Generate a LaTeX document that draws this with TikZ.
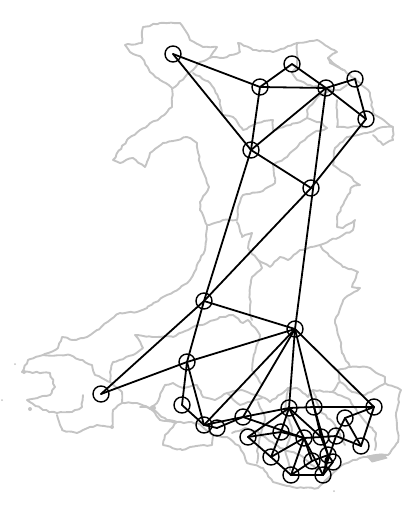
\documentclass[tikz,border=0pt]{standalone}
\usetikzlibrary{decorations.pathmorphing}
\definecolor{mapgray}{HTML}{C4C4C4}
\pgfmathsetseed{7}
\tikzset{
  x=1pt,y=-1pt,
  border/.style={draw=mapgray,line width=1.9pt,line join=round,line cap=round,decorate,decoration={random steps,segment length=3.5pt,amplitude=0.8pt}},
  blob/.style={fill=mapgray,draw=mapgray,line width=1pt,line join=round},
  station/.style={circle,draw=black,line width=1.4pt,minimum size=16pt,inner sep=0pt},
  link/.style={draw=black,line width=1.8pt,line cap=round}
}
\begin{document}
\begin{tikzpicture}
\useasboundingbox (0,0) rectangle (413,511);
% coast and outer boundary
\draw[border] (125,45)--(130,52)--(142,58)--(150,72)--(160,80)--(172,88)--(172,107)--(160,118)--(140,130)--(127,140)--(113,160)--(120,163)--(133,158)--(145,167)--(150,153)--(163,143)--(187,137)--(197,143)--(200,163)--(209,187)--(200,202)--(200,210)--(207,225)--(205,250)--(200,260)--(190,280)--(180,288)--(163,297)--(147,308)--(137,312)--(120,313)--(110,320)--(97,330)--(87,337)--(73,340)--(62,337)--(58,348)--(43,355)--(28,360)--(22,372)--(50,373)--(55,387)--(50,395)--(27,400)--(43,410)--(57,413)--(72,412)--(82,407)--(83,395);
\draw[border] (57,415)--(62,430)--(77,433)--(97,425)--(112,427)--(113,410)--(122,403)--(137,403)--(153,410)--(167,420)--(177,422)--(165,435)--(163,445)--(182,450)--(190,447)--(212,445)--(213,435)--(227,437)--(240,447)--(247,463)--(263,468)--(273,482)--(297,488)--(318,488)--(342,465)--(353,460)--(366,457)--(376,455)--(388,455)--(398,442)--(398,433)--(396,413)--(401,390)--(385,383)--(385,377)--(367,367)--(350,367)--(342,353)--(340,340)--(335,320)--(345,298)--(360,288)--(352,287)--(358,272)--(343,267)--(323,250)--(320,245)--(343,235)--(353,230)--(355,220)--(343,228)--(337,227)--(337,217)--(352,187)--(360,185)--(345,173)--(333,165)--(335,148)--(347,137)--(367,133)--(383,127)--(393,127)--(393,140)--(383,145)--(373,135);
\draw[border] (393,127)--(387,123)--(373,113)--(370,93)--(360,83)--(350,75)--(333,63)--(328,58)--(337,52)--(317,40)--(297,43)--(273,52)--(253,50)--(238,43)--(240,52)--(223,58)--(213,57)--(200,62)--(193,70)--(173,88);
\draw[border] (125,45)--(142,43)--(143,27)--(160,23)--(180,23)--(185,30)--(190,40)--(203,47)--(217,47)--(210,58);
% inner boundaries north
\draw[border] (193,73)--(210,83)--(220,100)--(222,115)--(233,117)--(243,130)--(257,123)--(273,120)--(273,130)--(297,123)--(307,118)--(322,123)--(327,128)--(313,133)--(300,143)--(287,157)--(273,165)--(275,183)--(260,192)--(243,195)--(238,207)--(237,220)--(223,220)--(208,225);
\draw[border] (237,222)--(242,237)--(252,233)--(248,248)--(258,260)--(262,268)--(252,277)--(250,287)--(250,313)--(252,320);
\draw[border] (258,260)--(270,267)--(280,257)--(288,260)--(300,250)--(320,245);
\draw[border] (297,43)--(297,65)--(292,73)--(297,80)--(310,85)--(322,88)--(340,90)--(347,85);
\draw[border] (307,118)--(307,110)--(320,95)--(333,90);
\draw[border] (328,58)--(330,63)--(343,70);
\draw[border] (337,100)--(337,127)--(367,127);
% mid Wales to south
\draw[border] (43,355)--(70,355)--(92,365)--(95,375)--(110,382)--(122,392)--(122,403);
\draw[border] (110,382)--(110,372)--(113,362)--(133,355)--(143,348)--(135,335)--(157,337)--(173,337)--(193,327)--(207,323)--(222,317)--(233,315)--(243,323)--(248,320)--(260,335)--(253,360)--(252,370)--(262,385);
\draw[border] (140,407)--(150,408)--(157,403)--(165,385)--(173,383)--(183,388)--(197,385)--(203,397)--(215,400)--(227,393)--(242,390)--(262,397)--(270,402)--(288,388)--(297,388)--(308,397)--(313,390)--(332,392)--(340,382)--(338,370)--(350,367);
\draw[border] (150,408)--(160,420)--(177,422)--(197,423)--(213,435);
\draw[border] (227,393)--(240,405)--(248,402)--(262,398);
% southern valleys
\draw[border] (258,402)--(265,418)--(258,447)--(257,463);
\draw[border] (232,433)--(245,428)--(258,432)--(280,448)--(300,455)--(318,470);
\draw[border] (288,388)--(285,410)--(292,430)--(285,450)--(290,470);
\draw[border] (313,390)--(320,410)--(335,425)--(345,445);
\draw[border] (332,392)--(350,400)--(360,415)--(373,430)--(376,433)--(375,450);
\draw[border] (340,382)--(352,392)--(365,395)--(385,383);
\draw[blob] (367,456)--(383,454)--(387,458)--(372,462)--cycle;
\fill[mapgray] (24,372) circle (2);
\fill[mapgray] (2,400) circle (1);
\fill[mapgray] (15,364) circle (1);
\fill[mapgray] (334,491) circle (1);
\fill[mapgray] (30,409) circle (2);
\fill[mapgray] (153,408) circle (3);
\fill[mapgray] (112,427) circle (2);
% stations
\node[station] (A) at (173,54) {};
\node[station] (B) at (260,87) {};
\node[station] (C) at (292,64) {};
\node[station] (D) at (326,88) {};
\node[station] (E) at (355,79) {};
\node[station] (F) at (366,119) {};
\node[station] (G) at (251,150) {};
\node[station] (H) at (311,188) {};
\node[station] (I) at (204,301) {};
\node[station] (J) at (295,329) {};
\node[station] (K) at (187,362) {};
\node[station] (L) at (101,394) {};
\node[station] (M) at (182,405) {};
\node[station] (N) at (204,425) {};
\node[station] (O) at (217,428) {};
\node[station] (P) at (243,417) {};
\node[station] (Q) at (248,437) {};
\node[station] (R) at (281,432) {};
\node[station] (S) at (289,408) {};
\node[station] (T) at (314,407) {};
\node[station] (U) at (374,407) {};
\node[station] (V) at (345,418) {};
\node[station] (W) at (361,446) {};
\node[station] (X) at (304,438) {};
\node[station] (Y) at (321,437) {};
\node[station] (Z) at (336,436) {};
\node[station] (a) at (271,457) {};
\node[station] (b) at (291,475) {};
\node[station] (c) at (323,475) {};
\node[station] (d) at (312,461) {};
\node[station] (e) at (333,462) {};
\node[station] (f) at (328,455) {};
% connectors
\foreach \p/\q in {A/B,A/G,B/C,B/D,B/G,C/D,D/E,D/F,D/G,D/J,E/F,F/H,G/H,G/I,H/I,I/L,I/K,I/J,K/J,K/L,K/M,K/N,M/N,N/O,N/J,N/P,O/P,P/J,P/S,P/X,S/J,T/J,U/J,S/T,T/U,U/V,U/W,V/W,V/Z,W/Z,Q/S,Q/R,Q/a,R/S,R/X,R/a,a/X,a/b,b/c,b/X,b/d,d/f,X/S,S/Y,T/Y,T/f,X/Y,Y/Z,X/c,X/d,Y/f,f/e,f/c,e/c,Z/c}
  \draw[link] (\p.center)--(\q.center);
\end{tikzpicture}
\end{document}
